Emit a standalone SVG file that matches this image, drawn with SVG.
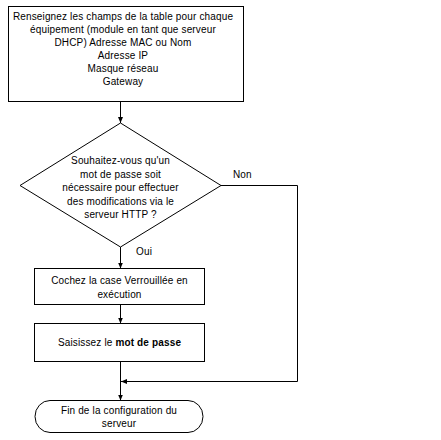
<svg xmlns="http://www.w3.org/2000/svg" width="441" height="440" viewBox="0 0 441 440">
<defs>
<marker id="arr" markerWidth="6" markerHeight="6" refX="6" refY="3" orient="auto" markerUnits="userSpaceOnUse">
<path d="M0,0.5 L6,3 L0,5.5 Z" fill="#000"/>
</marker>
<style>
.s{fill:#fff;stroke:#000;stroke-width:1}
.c{fill:none;stroke:#000;stroke-width:1}
text{font-family:"Liberation Sans",Arial,sans-serif;font-size:10px;letter-spacing:0.15px;fill:#000;text-anchor:middle}
.b{font-weight:bold}
</style>
</defs>
<rect width="441" height="440" fill="#fff"/>
<g id="connectors">
<path class="c" d="M120.5,101.5 V123" marker-end="url(#arr)"/>
<path class="c" d="M120.5,247 V268.5" marker-end="url(#arr)"/>
<path class="c" d="M120.5,305 V323.5" marker-end="url(#arr)"/>
<path class="c" d="M120.5,362 V400.5" marker-end="url(#arr)"/>
<path class="c" d="M221,185.5 H297.5 V381.5 H121" marker-end="url(#arr)"/>
<text x="136" y="255" style="text-anchor:start">Oui</text>
<text x="233" y="178" style="text-anchor:start">Non</text>
</g>
<g id="n1">
<rect class="s" x="8.5" y="6.5" width="235" height="95"/>
<text x="123" y="20">Renseignez les champs de la table pour chaque</text>
<text x="123" y="33">équipement (module en tant que serveur</text>
<text x="123" y="46">DHCP) Adresse MAC ou Nom</text>
<text x="123" y="59">Adresse IP</text>
<text x="123" y="72">Masque réseau</text>
<text x="123" y="85">Gateway</text>
</g>
<g id="n2">
<path class="s" d="M120.5,123 L221,185.5 L120.5,247 L20,185.5 Z"/>
<text x="120.5" y="164">Souhaitez-vous qu'un</text>
<text x="120.5" y="178">mot de passe soit</text>
<text x="120.5" y="191">nécessaire pour effectuer</text>
<text x="120.5" y="205">des modifications via le</text>
<text x="120.5" y="218">serveur HTTP ?</text>
</g>
<g id="n3">
<rect class="s" x="34.5" y="268.5" width="170" height="36"/>
<text x="119.5" y="284">Cochez la case Verrouillée en</text>
<text x="119.5" y="298">exécution</text>
</g>
<g id="n4">
<rect class="s" x="34.5" y="323.5" width="170" height="38"/>
<text x="119.5" y="346">Saisissez le <tspan class="b">mot de passe</tspan></text>
</g>
<g id="n5">
<path class="s" d="M50,400.5 H188 A15,16 0 0 1 188,432.5 H50 A15,16 0 0 1 50,400.5 Z"/>
<text x="119" y="414">Fin de la configuration du</text>
<text x="119" y="427">serveur</text>
</g>
</svg>
